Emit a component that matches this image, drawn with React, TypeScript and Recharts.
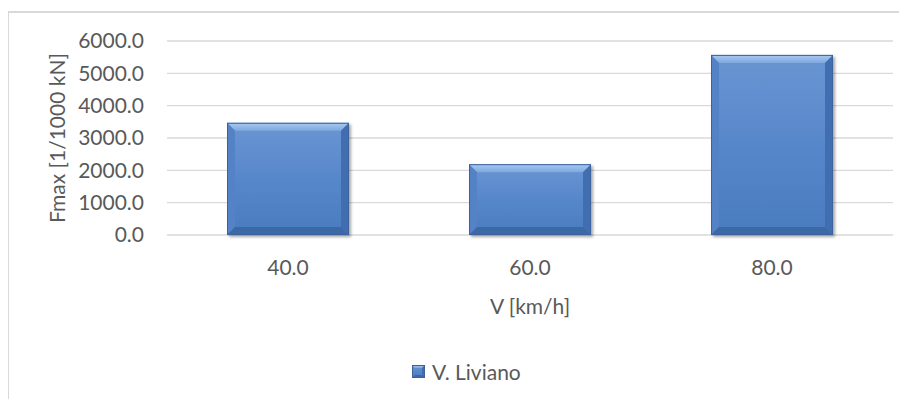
import React from 'react';
import { BarChart, Bar, XAxis, YAxis, CartesianGrid, Legend } from 'recharts';

const categories = ['40.0', '60.0', '80.0'];
const seriesName = 'V. Liviano';
const seriesValues = [3470, 2190, 5570];
const yTicks = [0, 1000, 2000, 3000, 4000, 5000, 6000];

const data = categories.map((c, i) => ({ v: c, val: seriesValues[i] }));

const FONT = 'Lato, "Open Sans", sans-serif';
const TXT = '#595959';
const FS = 21;

const BevelBar = (props: any) => {
  const { x, y, width, height } = props;
  if (!height || height <= 0) return null;
  const b = Math.min(8, width / 4, height / 4);
  const x2 = x + width;
  const y2 = y + height;
  return (
    <g filter="url(#barShadow)">
      <rect x={x} y={y} width={width} height={height} fill="url(#barFace)" />
      <polygon points={`${x},${y} ${x2},${y} ${x2 - b},${y + b} ${x + b},${y + b}`} fill="url(#barTop)" />
      <polygon points={`${x},${y} ${x + b},${y + b} ${x + b},${y2 - b} ${x},${y2}`} fill="#5283c6" />
      <polygon points={`${x2},${y} ${x2},${y2} ${x2 - b},${y2 - b} ${x2 - b},${y + b}`} fill="#416eb0" />
      <polygon points={`${x},${y2} ${x + b},${y2 - b} ${x2 - b},${y2 - b} ${x2},${y2}`} fill="#3d67a6" />
      <rect x={x + 0.5} y={y + 0.5} width={width - 1} height={height - 1} fill="none" stroke="#3c629c" strokeWidth={1} />
    </g>
  );
};

const renderLegend = () => (
  <div style={{ display: 'flex', alignItems: 'center', height: 24, fontFamily: FONT, fontSize: FS, color: TXT, whiteSpace: 'nowrap' }}>
    <svg width={13} height={13} style={{ marginRight: 7 }}>
      <rect x={0} y={0} width={13} height={13} fill="url(#barFace)" />
      <polygon points="0,0 13,0 10,3 3,3" fill="url(#barTop)" />
      <polygon points="0,13 3,10 10,10 13,13" fill="#3d67a6" />
      <polygon points="13,0 13,13 10,10 10,3" fill="#416eb0" />
      <rect x={0.5} y={0.5} width={12} height={12} fill="none" stroke="#3c629c" />
    </svg>
    <span>{seriesName}</span>
  </div>
);

export default function App() {
  return (
    <div style={{ position: 'relative', width: 891, height: 391 }}>
      <svg width={0} height={0} style={{ position: 'absolute' }}>
        <defs>
          <linearGradient id="barFace" x1="0" y1="0" x2="0" y2="1">
            <stop offset="0%" stopColor="#6a95d2" />
            <stop offset="50%" stopColor="#5787cb" />
            <stop offset="100%" stopColor="#4a7bbf" />
          </linearGradient>
          <linearGradient id="barTop" x1="0" y1="0" x2="0" y2="1">
            <stop offset="0%" stopColor="#a9caf2" />
            <stop offset="100%" stopColor="#7ea8df" />
          </linearGradient>
          <filter id="barShadow" x="-10%" y="-10%" width="130%" height="130%">
            <feDropShadow dx={2} dy={2} stdDeviation={1.5} floodColor="#000" floodOpacity={0.35} />
          </filter>
        </defs>
      </svg>
      <div
        style={{
          position: 'absolute',
          left: -1,
          top: 3,
          width: 900,
          height: 396,
          borderLeft: '2px solid #d9d9d9',
          borderTop: '2px solid #d9d9d9',
          boxSizing: 'border-box',
        }}
      />
      <div style={{ position: 'absolute', left: 0, top: 0 }}>
        <BarChart width={891} height={391} data={data} margin={{ top: 33, right: 6, left: 0, bottom: 0 }}>
          <CartesianGrid vertical={false} stroke="#d9d9d9" strokeWidth={1.3} />
          <XAxis
            dataKey="v"
            height={164}
            axisLine={false}
            tickLine={false}
            tickSize={0}
            tickMargin={25}
            tick={{ fill: TXT, fontSize: FS, fontFamily: FONT }}
            label={{ value: 'V [km/h]', position: 'insideBottom', offset: 85, fill: TXT, fontSize: FS, fontFamily: FONT }}
          />
          <YAxis
            width={159}
            domain={[0, 6000]}
            ticks={yTicks}
            interval={0}
            axisLine={false}
            tickLine={false}
            tickSize={0}
            tickMargin={23}
            tickFormatter={(v: number) => v.toFixed(1)}
            tick={{ fill: TXT, fontSize: FS, fontFamily: FONT }}
            label={{
              value: 'Fmax [1/1000 kN]',
              angle: -90,
              position: 'insideLeft',
              offset: 50,
              fill: TXT,
              fontSize: FS,
              fontFamily: FONT,
              style: { textAnchor: 'middle' },
            }}
          />
          <Legend
            verticalAlign="middle"
            align="center"
            content={renderLegend}
            wrapperStyle={{ top: 351, left: 404, width: 'auto' }}
          />
          <Bar dataKey="val" name={seriesName} barSize={122} shape={BevelBar} isAnimationActive={false} />
        </BarChart>
      </div>
    </div>
  );
}
